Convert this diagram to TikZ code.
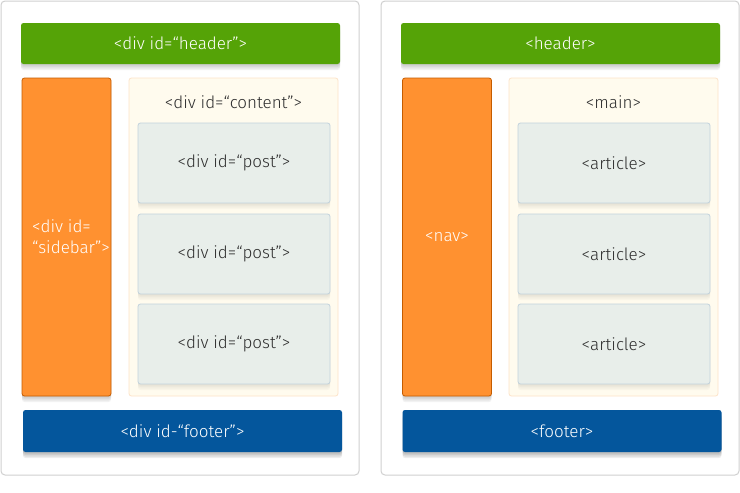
\documentclass[tikz,border=0pt]{standalone}
\usepackage{fontspec}
\setmainfont{Fira Sans}[UprightFont=* Light]
\definecolor{hdrgreen}{HTML}{55A307}
\definecolor{sideorange}{HTML}{FF9130}
\definecolor{sideborder}{HTML}{C45C00}
\definecolor{ftrblue}{HTML}{04569C}
\definecolor{contfill}{HTML}{FFFBEE}
\definecolor{contborder}{HTML}{FDE3C8}
\definecolor{postfill}{HTML}{E8EEEA}
\definecolor{postborder}{HTML}{C2D2DC}
\definecolor{panelborder}{HTML}{D0D0D0}
\definecolor{darktext}{HTML}{2E2E2E}
\tikzset{
  panel/.style={draw=panelborder, line width=1pt, fill=white, rounded corners=4pt},
  box/.style={rounded corners=2.5pt, inner sep=0pt, font=\fontsize{17}{21}\selectfont},
  softshadow/.style={
    preaction={fill=black, draw=none, opacity=#1, transform canvas={yshift=-1.5pt}},
    preaction={fill=black, draw=none, opacity=#1, transform canvas={yshift=-3pt}},
    preaction={fill=black, draw=none, opacity=#1, transform canvas={yshift=-4.5pt}},
    preaction={fill=black, draw=none, opacity=#1, transform canvas={yshift=-6pt}}},
  hdrbox/.style={box, fill=hdrgreen, text=white, softshadow=0.05},
  sidebox/.style={box, fill=sideorange, draw=sideborder, line width=0.8pt, text=white, softshadow=0.05},
  ftrbox/.style={box, fill=ftrblue, text=white, softshadow=0.07},
  contbox/.style={box, fill=contfill, draw=contborder, line width=0.8pt},
  postbox/.style={box, fill=postfill, draw=postborder, line width=0.8pt, text=darktext, softshadow=0.025},
  lbl/.style={inner sep=0pt, font=\fontsize{17}{21}\selectfont},
}
\begin{document}
\begin{tikzpicture}[x=1pt,y=-1pt]
\useasboundingbox (0,0) rectangle (740,493);
\fill[white] (0,0) rectangle (740,493);
% panels
\draw[panel] (1,1) rectangle (359,475);
\draw[panel] (381,1) rectangle (739,475);
% ---- left panel ----
\node[hdrbox, minimum width=319pt, minimum height=41pt] (lhdr) at (180.5,43.5) {<div id=“header”>};
\node[sidebox, minimum width=89pt, minimum height=318pt] (lside) at (66.5,237) {};
\node[lbl, text=white, align=left, anchor=west] (lsidetxt) at (32,236.5) {<div id=\\“sidebar”>};
\node[contbox, minimum width=209pt, minimum height=318pt] (lcont) at (233.5,237) {};
\node[lbl, text=darktext] (lconttxt) at (233.5,102) {<div id=“content”>};
\node[postbox, minimum width=192pt, minimum height=80pt] (lp1) at (234,163) {<div id=“post”>};
\node[postbox, minimum width=192pt, minimum height=80pt] (lp2) at (234,254) {<div id=“post”>};
\node[postbox, minimum width=192pt, minimum height=80pt] (lp3) at (234,344) {<div id=“post”>};
\node[ftrbox, minimum width=319pt, minimum height=42pt] (lftr) at (182.5,431) {<div id-“footer”>};
% ---- right panel ----
\node[hdrbox, minimum width=319pt, minimum height=41pt] (rhdr) at (560.5,43.5) {<header>};
\node[sidebox, minimum width=89pt, minimum height=318pt] (rnav) at (447,237) {<nav>};
\node[contbox, minimum width=209pt, minimum height=318pt] (rmain) at (613.5,237) {};
\node[lbl, text=darktext] (rmaintxt) at (613.5,102) {<main>};
\node[postbox, minimum width=192pt, minimum height=80pt] (rp1) at (614,163) {<article>};
\node[postbox, minimum width=192pt, minimum height=80pt] (rp2) at (614,254) {<article>};
\node[postbox, minimum width=192pt, minimum height=80pt] (rp3) at (614,344) {<article>};
\node[ftrbox, minimum width=319pt, minimum height=42pt] (rftr) at (562,431) {<footer>};
\end{tikzpicture}
\end{document}
